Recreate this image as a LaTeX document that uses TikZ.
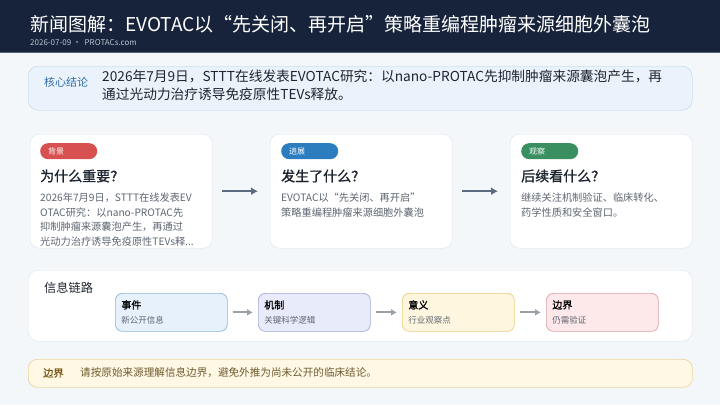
\documentclass[tikz,border=0pt]{standalone}
\usepackage{fontspec}
\setmainfont{Noto Sans CJK SC}
\newfontfamily\headfont{Noto Sans CJK SC}[FakeBold=1.2]
\newcommand{\linknote}[1]{{\fontsize{8.5}{9}\rmfamily\color{bodygray}#1}}
\usetikzlibrary{positioning,arrows.meta}
\definecolor{pagebg}{HTML}{F4F7FA}
\definecolor{navy}{HTML}{17233A}
\definecolor{subgray}{HTML}{B8C2CF}
\definecolor{sumfill}{HTML}{EAF3FB}
\definecolor{sumline}{HTML}{B7D2EA}
\definecolor{sumblue}{HTML}{2F6EA8}
\definecolor{ink}{HTML}{1E2530}
\definecolor{bodygray}{HTML}{5E6672}
\definecolor{cardline}{HTML}{DDE3EA}
\definecolor{tagred}{HTML}{D6514F}
\definecolor{tagblue}{HTML}{2C7CC0}
\definecolor{taggreen}{HTML}{3A8F60}
\definecolor{flowgray}{HTML}{5B6B80}
\definecolor{linkgray}{HTML}{9AA0A8}
\definecolor{evfill}{HTML}{E6F1FB}\definecolor{evline}{HTML}{8DB8D8}
\definecolor{mefill}{HTML}{E8ECFA}\definecolor{meline}{HTML}{9FAADB}
\definecolor{sifill}{HTML}{FFF6DF}\definecolor{siline}{HTML}{E8CD80}
\definecolor{bdfill}{HTML}{FDE8EA}\definecolor{bdline}{HTML}{DFA0A6}
\definecolor{notefill}{HTML}{FFF8E5}
\definecolor{noteline}{HTML}{EBD59A}
\definecolor{notebrown}{HTML}{7A5C1A}
\definecolor{notetext}{HTML}{6E5B2E}

\begin{document}
\begin{tikzpicture}[x=1pt, y=-1pt,
    card/.style={draw=cardline, fill=white, rounded corners=9pt, minimum width=182pt, minimum height=114pt, anchor=north west, inner sep=0pt},
    tag/.style={rounded corners=8pt, anchor=north west, inner xsep=8pt, inner ysep=0pt, text width=41pt, minimum height=16pt, text=white, font=\fontsize{8}{9}\selectfont},
    heading/.style={anchor=west, text=ink, font=\fontsize{14}{16}\headfont, inner sep=0pt},
    body/.style={anchor=north west, align=left, text=bodygray, font=\fontsize{10.2}{14.5}\selectfont, inner sep=0pt},
    flow/.style={draw=flowgray, line width=2.2pt, -{Latex[length=7pt,width=8pt]}},
    link/.style={draw=linkgray, line width=2pt, -{Latex[length=6pt,width=7pt]}},
    linkbox/.style={rounded corners=7pt, line width=0.7pt, anchor=north west, minimum width=112pt, minimum height=38pt, inner xsep=6pt, text width=100pt, align=left, font=\fontsize{10}{15}\headfont},
    panel/.style={draw=cardline, fill=white, rounded corners=10pt, anchor=north west, inner sep=0pt}]
  \useasboundingbox (0,0) rectangle (720,405);
  \fill[pagebg] (0,0) rectangle (720,405);
  % header
  \fill[navy] (0,0) rectangle (720,52);
  \draw[subgray!40!navy, line width=1pt] (0,52) -- (720,52);
  \node[anchor=base west, inner sep=0pt, text=white, font=\fontsize{19}{22}\selectfont] (title) at (30,31) {新闻图解：EVOTAC以“先关闭、再开启”策略重编程肿瘤来源细胞外囊泡};
  \node[anchor=base west, inner sep=0pt, text=subgray, font=\fontsize{8}{10}\selectfont] (meta) at (30,45) {2026-07-09 · \ PROTACs.com};
  % summary
  \node[draw=sumline, fill=sumfill, rounded corners=10pt, anchor=north west, minimum width=664pt, minimum height=44pt] (summary) at (28,66) {};
  \node[anchor=west, inner sep=0pt, text=sumblue, font=\fontsize{11}{13}\selectfont] (sumlabel) at (44,82) {核心结论};
  \node[anchor=north west, align=left, inner sep=0pt, text=ink, font=\fontsize{13.7}{18}\selectfont] (sumtext) at (102,70)
    {2026年7月9日，STTT在线发表EVOTAC研究：以nano-PROTAC先抑制肿瘤来源囊泡产生，再\\通过光动力治疗诱导免疫原性TEVs释放。};
  % cards
  \node[card] (why) at (30,134) {};
  \node[card] (what) at (270,134) {};
  \node[card] (next) at (510,134) {};
  \node[tag, fill=tagred] (whytag) at (40,143) {背景};
  \node[tag, fill=tagblue] (whattag) at (281,143) {进展};
  \node[tag, fill=taggreen] (nexttag) at (521,143) {观察};
  \node[heading] (whyhead) at (40,176) {为什么重要？};
  \node[heading] (whathead) at (281,176) {发生了什么？};
  \node[heading] (nexthead) at (521,176) {后续看什么？};
  \node[body] (whybody) at (40,193) {2026年7月9日，STTT在线发表EV\\OTAC研究：以nano-PROTAC先\\抑制肿瘤来源囊泡产生，再通过\\光动力治疗诱导免疫原性TEVs释...};
  \node[body] (whatbody) at (281,193) {EVOTAC以“先关闭、再开启”\\策略重编程肿瘤来源细胞外囊泡};
  \node[body] (nextbody) at (521,193) {继续关注机制验证、临床转化、\\药学性质和安全窗口。};
  \draw[flow, shorten <=10pt, shorten >=12pt] (why.east) -- (what.west);
  \draw[flow, shorten <=10pt, shorten >=12pt] (what.east) -- (next.west);
  % information chain
  \node[panel, minimum width=664pt, minimum height=71pt] (chain) at (28,270) {};
  \node[anchor=west, inner sep=0pt, text=ink, font=\fontsize{12.2}{14}\selectfont] (chainlabel) at (44,288) {信息链路};
  \node[linkbox, draw=evline, fill=evfill] (event) at (115,293) {事件\\\linknote{新公开信息}};
  \node[linkbox, draw=meline, fill=mefill] (mech) at (258,293) {机制\\\linknote{关键科学逻辑}};
  \node[linkbox, draw=siline, fill=sifill] (sense) at (402,293) {意义\\\linknote{行业观察点}};
  \node[linkbox, draw=bdline, fill=bdfill] (bound) at (546,293) {边界\\\linknote{仍需验证}};
  \draw[link, shorten <=5pt, shorten >=5pt] (event) -- (mech);
  \draw[link, shorten <=5pt, shorten >=5pt] (mech) -- (sense);
  \draw[link, shorten <=5pt, shorten >=5pt] (sense) -- (bound);
  % note
  \node[draw=noteline, fill=notefill, rounded corners=9pt, anchor=north west, minimum width=664pt, minimum height=28pt, line width=0.7pt] (note) at (28,359) {};
  \node[anchor=west, inner sep=0pt, text=notebrown, font=\fontsize{10.2}{12}\headfont] (notelabel) at (43,373) {边界};
  \node[anchor=west, inner sep=0pt, text=notetext, font=\fontsize{10.6}{12}\selectfont] (notetext) at (80,373) {请按原始来源理解信息边界，避免外推为尚未公开的临床结论。};
\end{tikzpicture}
\end{document}
